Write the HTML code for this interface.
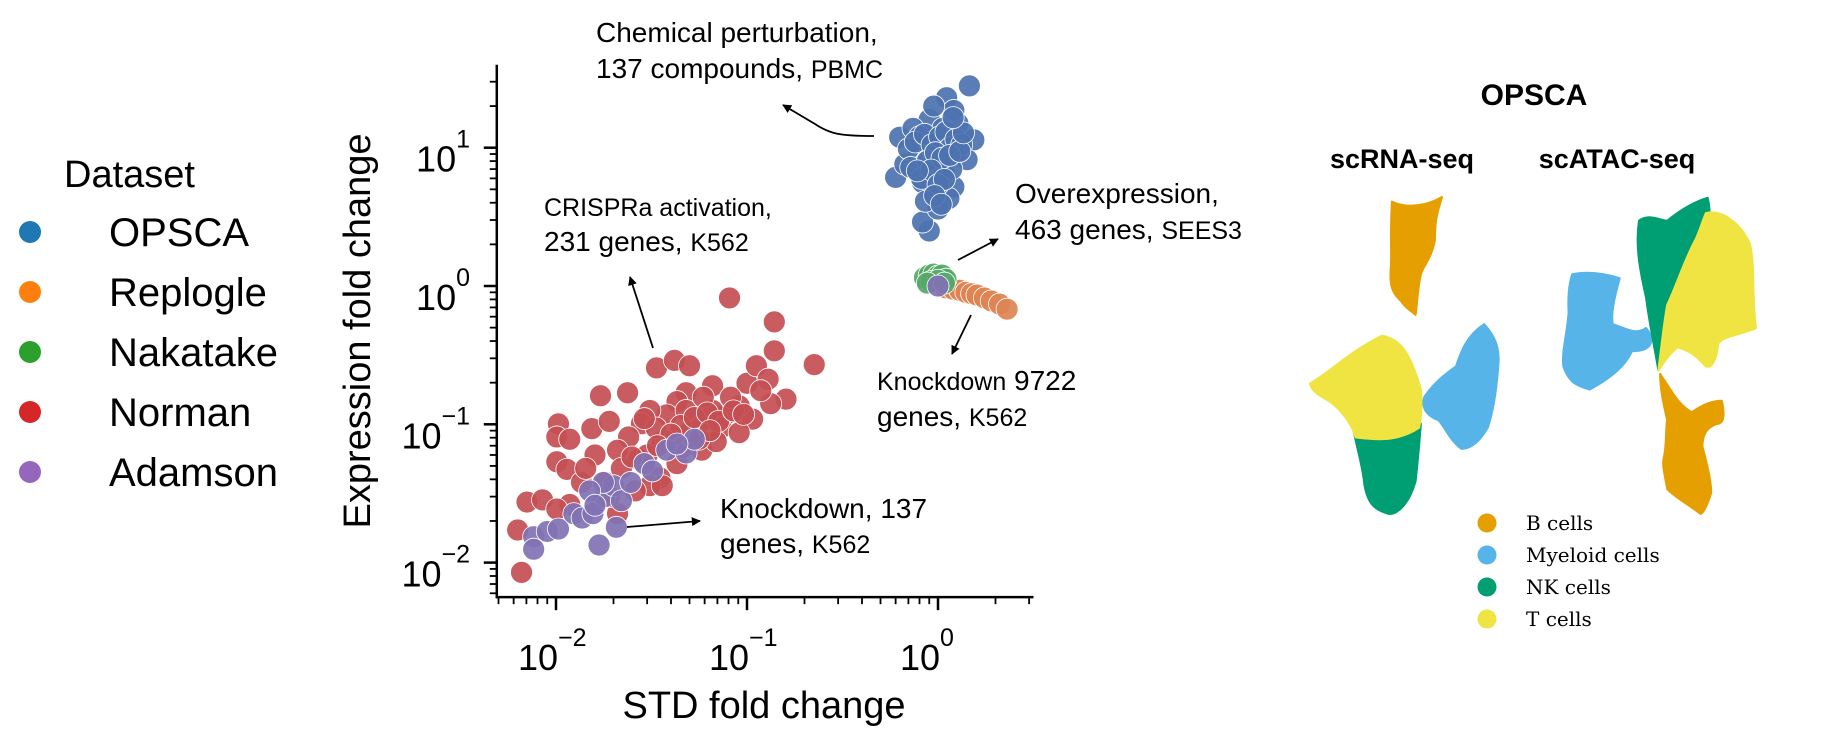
<!DOCTYPE html>
<html><head><meta charset="utf-8"><style>
html,body{margin:0;padding:0;background:#fff;}
svg{display:block;font-family:"Liberation Sans",Arial,sans-serif;}
</style></head><body>
<svg id="fig" width="1834" height="746" viewBox="0 0 1834 746" xmlns="http://www.w3.org/2000/svg">
<defs>
<marker id="ah" viewBox="0 0 10 10" refX="9" refY="5" markerWidth="9" markerHeight="9" markerUnits="userSpaceOnUse" orient="auto"><path d="M0,0 L10,5 L0,10 z" fill="#000"/></marker>
</defs>
<g>
<text x="64" y="187" font-size="38">Dataset</text>
<g id="legItems"></g>
</g>
<text transform="translate(370,331) rotate(-90)" text-anchor="middle" font-size="38">Expression fold change</text>
<text x="764" y="718" text-anchor="middle" font-size="38">STD fold change</text>
<g id="axes"></g>
<g id="points"></g>
<g font-size="28">
<text x="596" y="42">Chemical perturbation,</text>
<text x="596" y="78">137 compounds, <tspan font-size="25">PBMC</tspan></text>
<path d="M874,136 C840,136 830,134 815,124 L783,105" fill="none" stroke="#000" stroke-width="1.8" marker-end="url(#ah)"/>
<text x="544" y="216" font-size="25">CRISPRa activation,</text>
<text x="544" y="251">231 genes, <tspan font-size="25">K562</tspan></text>
<line x1="653" y1="348" x2="630" y2="277" stroke="#000" stroke-width="1.8" marker-end="url(#ah)"/>
<text x="1015" y="203">Overexpression,</text>
<text x="1015" y="239">463 genes, <tspan font-size="25">SEES3</tspan></text>
<line x1="958" y1="260" x2="998" y2="239" stroke="#000" stroke-width="1.8" marker-end="url(#ah)"/>
<text x="877" y="390"><tspan font-size="25">Knockdown</tspan> 9722</text>
<text x="877" y="426">genes, <tspan font-size="25">K562</tspan></text>
<line x1="971" y1="315" x2="952" y2="354" stroke="#000" stroke-width="1.8" marker-end="url(#ah)"/>
<text x="720" y="518">Knockdown, 137</text>
<text x="720" y="553">genes, <tspan font-size="25">K562</tspan></text>
<line x1="627" y1="527" x2="700" y2="521" stroke="#000" stroke-width="1.8" marker-end="url(#ah)"/>
</g>
<g>
<text x="1534" y="105" text-anchor="middle" font-size="30" font-weight="bold">OPSCA</text>
<text x="1402" y="168" text-anchor="middle" font-size="27" font-weight="bold">scRNA-seq</text>
<text x="1617" y="168" text-anchor="middle" font-size="27" font-weight="bold">scATAC-seq</text>
<g transform="translate(1280,60) scale(0.352,0.383)" stroke-linejoin="round">
<path fill="#E69F00" stroke="#E69F00" stroke-width="6" d="M318,370 C360,390 420,380 460,358 C450,390 440,410 440,470 C430,520 405,540 400,560 C390,600 390,640 385,665 C365,650 350,640 345,630 C320,610 310,590 315,540 C318,500 312,470 318,370 Z"/>
<path fill="#009E73" stroke="#009E73" stroke-width="6" d="M210,970 C260,990 330,990 400,950 C395,1010 390,1060 385,1100 C370,1150 340,1185 310,1185 C270,1175 250,1160 240,1110 C235,1060 220,1020 210,970 Z"/>
<path fill="#F0E442" stroke="#F0E442" stroke-width="6" d="M85,845 C150,810 200,760 290,720 C350,730 375,780 400,860 C405,900 400,940 395,960 C330,1000 260,990 215,985 C200,940 160,900 130,885 C100,870 90,860 85,845 Z"/>
<path fill="#56B4E9" stroke="#56B4E9" stroke-width="6" d="M580,690 C610,720 625,750 620,800 C615,860 605,920 590,960 C565,1000 540,1015 515,1015 C480,990 470,960 450,940 C420,930 400,910 410,880 C440,840 470,820 500,800 C515,760 530,720 580,690 Z"/>
<path fill="#56B4E9" stroke="#56B4E9" stroke-width="6" d="M830,560 C880,550 930,560 965,570 C950,620 940,660 945,690 C980,700 1010,720 1040,700 C1060,720 1070,760 1000,760 C980,800 940,830 880,860 C840,850 820,840 805,800 C800,760 815,720 820,660 C818,620 820,590 830,560 Z"/>
<path fill="#009E73" stroke="#009E73" stroke-width="6" d="M1020,420 C1050,400 1080,420 1100,420 C1140,390 1180,370 1215,360 C1225,400 1220,420 1210,460 C1180,520 1160,560 1130,640 C1110,700 1090,760 1075,810 C1060,730 1050,690 1040,620 C1020,540 1010,480 1020,420 Z"/>
<path fill="#F0E442" stroke="#F0E442" stroke-width="6" d="M1210,400 C1260,390 1310,430 1335,480 C1350,540 1340,620 1352,700 C1300,720 1260,720 1245,740 C1240,780 1230,805 1210,800 C1190,780 1170,760 1130,750 C1100,770 1085,800 1075,810 C1085,740 1090,690 1100,640 C1130,580 1150,520 1180,470 C1195,440 1200,420 1210,400 Z"/>
<path fill="#E69F00" stroke="#E69F00" stroke-width="6" d="M1080,820 C1110,860 1130,900 1170,920 C1200,900 1230,890 1255,890 C1265,930 1260,950 1240,950 C1210,960 1200,980 1200,1010 C1215,1060 1225,1100 1225,1130 C1215,1160 1205,1180 1195,1185 C1160,1160 1120,1140 1100,1120 C1095,1090 1085,1060 1090,1040 C1100,1000 1095,960 1100,940 C1090,900 1080,860 1080,820 Z"/>
</g>
<g font-family="'DejaVu Serif',serif" font-size="20">
<circle cx="1487" cy="523" r="9.5" fill="#E69F00"/>
<text x="1526" y="530">B cells</text>
<circle cx="1487" cy="555" r="9.5" fill="#56B4E9"/>
<text x="1526" y="562">Myeloid cells</text>
<circle cx="1487" cy="587" r="9.5" fill="#009E73"/>
<text x="1526" y="594">NK cells</text>
<circle cx="1487" cy="619" r="9.5" fill="#F0E442"/>
<text x="1526" y="626">T cells</text>
</g>
</g>
</svg>
<script>
const datasets = ["OPSCA","Replogle","Nakatake","Norman","Adamson"];
const legendColors = ["#1f77b4","#ff7f0e","#2ca02c","#d62728","#9467bd"];
const pointColors = ["#4c72b0","#dd8452","#55a868","#c44e52","#8172b3"];
const xTickExps = [-2,-1,0];
const yTickExps = [-2,-1,0,1];
const opscaX = [1.46,1.11,0.90,1.27,0.63,1.54,0.60,0.99,1.21,0.92,0.90,0.83,1.14,0.78,1.03,0.87,0.74,1.21,0.67,1.42,1.0,0.95,1.08,0.83,1.06,1.27,0.80,1.12,0.95,1.18,0.70,0.76,0.85,0.93,1.02,1.10,1.16,1.24,1.33,0.72,0.88,0.97,1.05,1.15,1.30,0.82,0.92,1.00,1.08,0.86,0.96,1.04,0.78,1.36,1.20];
const opscaY = [28,23,16,15,11.9,11.4,6.1,7.9,5.2,4.9,2.5,2.9,4.3,8.8,10.2,6.5,13.8,18.6,7.6,8.2,3.6,20,6.5,5.6,13.8,9.5,12,11,9,7,9.8,11,12.5,10.5,12,13,10,11.5,10.5,7.2,8,9.2,8.4,8.8,9.4,6,6.9,5.4,5.9,4.1,4.5,3.9,6.8,12.8,16.5];
const replogleX = [1.1,1.2,1.3,1.4,1.5,1.6,1.75,1.9,2.1,2.3];
const replogleY = [0.97,0.95,0.93,0.9,0.88,0.86,0.82,0.78,0.74,0.68];
const nakatakeX = [0.85,0.9,0.95,1.0,1.05,1.1,0.92,1.0,0.88,1.08];
const nakatakeY = [1.15,1.2,1.22,1.18,1.2,1.12,1.08,1.1,1.05,1.05];
const normanX = [0.081,0.139,0.139,0.225,0.0336,0.0417,0.050,0.0171,0.0237,0.066,0.0103,0.0101,0.0118,0.0154,0.019,0.0101,0.0114,0.00705,0.0085,0.0063,0.0066,0.1,0.112,0.129,0.16,0.133,0.107,0.077,0.091,0.066,0.048,0.043,0.038,0.031,0.028,0.024,0.021,0.027,0.036,0.050,0.058,0.043,0.035,0.031,0.026,0.016,0.0136,0.0118,0.0101,0.0143,0.0182,0.021,0.038,0.073,0.091,0.069,0.056,0.0334,0.022,0.019,0.048,0.059,0.082,0.036,0.045,0.053,0.062,0.071,0.085,0.096,0.118,0.040,0.046,0.056,0.064,0.030,0.034,0.025,0.029];
const normanY = [0.82,0.55,0.34,0.27,0.256,0.29,0.265,0.161,0.169,0.19,0.1007,0.081,0.078,0.093,0.105,0.0536,0.0472,0.0274,0.0284,0.0172,0.0085,0.198,0.265,0.212,0.152,0.141,0.109,0.117,0.136,0.126,0.169,0.146,0.117,0.126,0.101,0.081,0.065,0.056,0.075,0.087,0.065,0.052,0.041,0.036,0.033,0.060,0.038,0.0263,0.0244,0.048,0.038,0.0226,0.075,0.094,0.087,0.075,0.101,0.094,0.048,0.030,0.126,0.157,0.157,0.036,0.098,0.112,0.121,0.105,0.125,0.118,0.175,0.085,0.068,0.078,0.09,0.06,0.07,0.058,0.11];
const adamsonX = [1.0,0.00764,0.00764,0.0090,0.0103,0.0124,0.0137,0.0156,0.0168,0.0207,0.018,0.020,0.0177,0.022,0.0246,0.029,0.032,0.038,0.048,0.053,0.043,0.015,0.016];
const adamsonY = [1.0,0.0154,0.0125,0.0168,0.0175,0.0226,0.021,0.0226,0.0134,0.018,0.030,0.036,0.038,0.028,0.038,0.052,0.046,0.065,0.062,0.078,0.072,0.033,0.026];

const NS="http://www.w3.org/2000/svg";
const X0=938, XD=191, Y0=286, YD=138.3;
function xScale(v){return X0+Math.log10(v)*XD;}
function yScale(v){return Y0-Math.log10(v)*YD;}
const xMinL=-2.31, xMaxL=0.5, yMinL=-2.25, yMaxL=1.6;
function mk(tag,attrs,parent){const e=document.createElementNS(NS,tag);for(const k in attrs)e.setAttribute(k,attrs[k]);parent.appendChild(e);return e;}

const leg=document.getElementById('legItems');
datasets.forEach((d,i)=>{
  const y=232+i*60;
  const c=mk('circle',{cx:30,cy:y,r:11,fill:legendColors[i]},leg);
  
  
  const t=mk('text',{x:109,y:y+14,'font-size':40},leg);
  t.textContent=d;
  
  
});

const ax=document.getElementById('axes');
const axLeft=xScale(Math.pow(10,xMinL)), axRight=xScale(Math.pow(10,xMaxL));
const axTop=yScale(Math.pow(10,yMaxL)), axBottom=yScale(Math.pow(10,yMinL));
const ys=mk('line',{x1:axLeft,y1:axTop,x2:axLeft,y2:axBottom+1,stroke:'#000','stroke-width':2.5},ax);


const xs=mk('line',{x1:axLeft-1,y1:axBottom,x2:axRight,y2:axBottom,stroke:'#000','stroke-width':2.5},ax);


for(let e=-3;e<=1;e++){for(let m=2;m<=9;m++){
  const l=e+Math.log10(m);
  if(l>yMinL&&l<yMaxL){const y=yScale(Math.pow(10,l));const t=mk('line',{x1:axLeft-7,y1:y,x2:axLeft,y2:y,stroke:'#000','stroke-width':1.8},ax);
    
    }
  if(l>xMinL&&l<xMaxL){const x=xScale(Math.pow(10,l));const t=mk('line',{x1:x,y1:axBottom,x2:x,y2:axBottom+7,stroke:'#000','stroke-width':1.8},ax);
    
    }
}}
yTickExps.forEach(e=>{
  const y=yScale(Math.pow(10,e));
  const t=mk('line',{x1:axLeft-13,y1:y,x2:axLeft,y2:y,stroke:'#000','stroke-width':2.5},ax);
  
  
  const tx=mk('text',{x:470,y:y+24,'text-anchor':'end','font-size':36},ax);
  tx.innerHTML='10<tspan dy="-24" font-size="25">'+(e<0?'\u2212'+(-e):e)+'</tspan>';
  
  
});
xTickExps.forEach(e=>{
  const x=xScale(Math.pow(10,e));
  const t=mk('line',{x1:x,y1:axBottom,x2:x,y2:axBottom+13,stroke:'#000','stroke-width':2.5},ax);
  
  
  const tx=mk('text',{x:x-38,y:670,'font-size':36},ax);
  tx.innerHTML='10<tspan dy="-24" font-size="25">'+(e<0?'\u2212'+(-e):e)+'</tspan>';
  
  
});

const pts=document.getElementById('points');
const series=[[opscaX,opscaY],[replogleX,replogleY],[nakatakeX,nakatakeY],[normanX,normanY],[adamsonX,adamsonY]];
series.forEach((s,i)=>{
  const g=mk('g',{},pts);
  
  
  s[0].forEach((xv,j)=>{
    const c=mk('circle',{cx:xScale(xv),cy:yScale(s[1][j]),r:11,fill:pointColors[i],stroke:'#fff','stroke-width':0.8,'fill-opacity':0.92},g);
    
    
  });
});
</script>
</body></html>
